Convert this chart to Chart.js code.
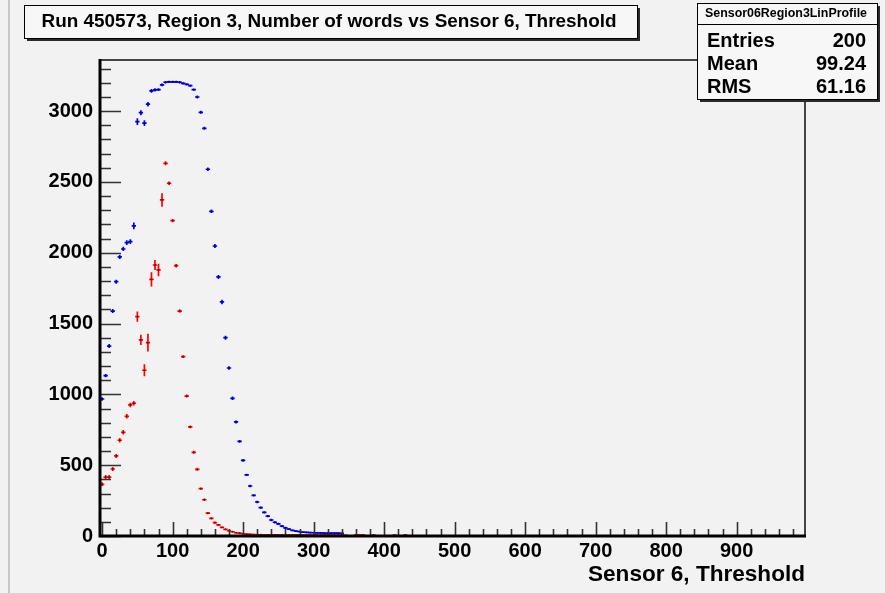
<!DOCTYPE html>
<html><head><meta charset="utf-8">
<script src="https://cdn.jsdelivr.net/npm/chart.js@4.4.0/dist/chart.umd.min.js"></script>
<style>html,body{margin:0;padding:0;background:#f2f2f2;} canvas{display:block;}</style>
</head><body>
<canvas id="c" width="885" height="593"></canvas>
<script>
// ---- text ----
const titleText = 'Run 450573, Region 3, Number of words vs Sensor 6, Threshold';
const xAxisTitle = 'Sensor 6, Threshold';
const statsName = 'Sensor06Region3LinProfile';
const statsLabels = ['Entries', 'Mean', 'RMS'];
const statsValues = ['200', '99.24', '61.16'];

// ---- ticks ----
const xTicks = [0, 100, 200, 300, 400, 500, 600, 700, 800, 900];
const yTicks = [0, 500, 1000, 1500, 2000, 2500, 3000];
const binHalfWidth = 2.5;

// ---- blue profile ----
const blueX = [0,5,10,15,20,25,30,35,40,45,50,55,60,65,70,75,80,85,90,95,100,105,110,115,120,125,130,135,140,145,150,155,160,165,170,175,180,185,190,195,200,205,210,215,220,225,230,235,240,245,250,255,260,265,270,275,280,285,290,295,300,305,310,315,320,325,330,335,340];
const blueY = [967,1132,1341,1588,1795,1970,2026,2071,2078,2189,2925,2988,2914,3048,3142,3149,3151,3184,3203,3205,3205,3205,3203,3195,3188,3179,3151,3099,2991,2878,2589,2292,2047,1829,1652,1400,1186,972,805,668,534,431,353,287,240,200,167,141,113,97,85,70,58,48,40,35,31,28,26,24,23,22,22,21,21,20,20,20,19];
const blueErr = [12,12,14,14,14,14,15,16,16,24,24,18,20,16,14,12,10,10,8,8,8,8,8,8,8,8,8,10,10,10,12,12,14,14,16,14,12,12,10,10,10,8,8,8,8,8,8,8,8,8,8,8,8,6,6,6,6,6,6,6,6,6,6,6,6,6,6,6,6];

// ---- red profile ----
const redX = [0,5,10,15,20,25,30,35,40,45,50,55,60,65,70,75,80,85,90,95,100,105,110,115,120,125,130,135,140,145,150,155,160,165,170,175,180,185,190,195,200,205,210,215,220,225,230,235,240,245,250,255,260,265,270,275,280,285,290,295,300,305,310,315,320,325,330,335,340,345,360,365,370,385,415,430];
const redY = [365,416,416,473,565,676,732,845,925,937,1548,1384,1170,1365,1812,1913,1878,2372,2631,2490,2226,1908,1588,1266,988,770,591,471,334,256,162,125,94,78,61,47,37,30,23,21,16,13,11,10,9,9,8,8,8,8,7,7,7,7,7,6,6,6,6,6,6,6,6,6,6,6,6,6,6,5,6,6,6,6,6,6];
const redErr = [14,14,14,14,14,16,16,16,16,16,36,36,42,62,50,36,44,48,14,12,12,12,12,10,10,10,10,10,8,8,8,8,8,6,6,6,6,6,6,6,6,6,6,6,6,6,6,6,6,6,6,6,6,6,6,6,6,6,6,6,6,6,6,6,6,6,6,6,6,6,6,6,6,6,6,6];

const FONT = '"Liberation Sans", Arial, Helvetica, sans-serif';

function fitText(ctx, text, x, y, width, font, align) {
  ctx.save();
  ctx.font = font;
  const w = ctx.measureText(text).width;
  const s = width / w;
  ctx.textBaseline = 'middle';
  ctx.textAlign = 'left';
  let left = x;
  if (align === 'center') left = x - width / 2;
  if (align === 'right') left = x - width;
  ctx.translate(left, y);
  ctx.scale(s, 1);
  ctx.fillText(text, 0, 0);
  ctx.restore();
}

const errorBars = {
  id: 'errorBars',
  beforeDatasetsDraw(chart) {
    const ctx = chart.ctx;
    const xs = chart.scales.x, ys = chart.scales.y;
    const sets = [
      {X: blueX, Y: blueY, E: blueErr, c: '#0000ff'},
      {X: redX, Y: redY, E: redErr, c: '#ff0000'}
    ];
    ctx.save();
    ctx.beginPath();
    ctx.rect(chart.chartArea.left, chart.chartArea.top, chart.chartArea.width, chart.chartArea.height);
    ctx.clip();
    sets.forEach(s => {
      ctx.strokeStyle = s.c;
      ctx.lineWidth = 1.7;
      s.X.forEach((xv, i) => {
        const px = xs.getPixelForValue(xv);
        const py = ys.getPixelForValue(s.Y[i]);
        const x0 = xs.getPixelForValue(xv - binHalfWidth - 0.6);
        const x1 = xs.getPixelForValue(xv + binHalfWidth + 0.6);
        const y0 = ys.getPixelForValue(s.Y[i] - s.E[i]);
        const y1 = ys.getPixelForValue(s.Y[i] + s.E[i]);
        ctx.beginPath();
        ctx.moveTo(x0, py); ctx.lineTo(x1, py);
        ctx.moveTo(px, y0); ctx.lineTo(px, y1);
        ctx.stroke();
      });
    });
    ctx.restore();
  }
};

const rootFrame = {
  id: 'rootFrame',
  beforeDraw(chart) {
    const ctx = chart.ctx;
    ctx.save();
    ctx.fillStyle = '#f2f2f2';
    ctx.fillRect(0, 0, chart.width, chart.height);
    ctx.strokeStyle = '#c8c8c8';
    ctx.lineWidth = 2;
    ctx.beginPath(); ctx.moveTo(9, 0); ctx.lineTo(9, chart.height); ctx.stroke();
    ctx.restore();
  },
  afterDatasetsDraw(chart) {
    const ctx = chart.ctx;
    const a = chart.chartArea;
    const xs = chart.scales.x, ys = chart.scales.y;
    ctx.save();
    ctx.strokeStyle = '#444';
    ctx.lineWidth = 2;
    ctx.beginPath();
    ctx.moveTo(a.left, a.top); ctx.lineTo(a.right, a.top); ctx.lineTo(a.right, a.bottom);
    ctx.stroke();
    ctx.strokeStyle = '#333';
    ctx.lineWidth = 1.6;
    ctx.beginPath();
    for (let v = 0; v <= 3300; v += 100) {
      const py = Math.round(ys.getPixelForValue(v)) + 0.5;
      const len = (v % 500 === 0) ? 21 : 11;
      ctx.moveTo(a.left, py); ctx.lineTo(a.left + len, py);
    }
    for (let v = 0; v <= 980; v += 20) {
      const px = Math.round(xs.getPixelForValue(v)) + 0.5;
      const len = (v % 100 === 0) ? 14 : 7;
      ctx.moveTo(px, a.bottom); ctx.lineTo(px, a.bottom - len);
    }
    ctx.stroke();
    ctx.strokeStyle = '#000';
    ctx.lineWidth = 3;
    ctx.beginPath();
    ctx.moveTo(a.left, a.top - 1); ctx.lineTo(a.left, a.bottom); ctx.lineTo(a.right + 1, a.bottom);
    ctx.stroke();
    ctx.restore();
  },
  afterDraw(chart) {
    const ctx = chart.ctx;
    const a = chart.chartArea;
    ctx.save();
    ctx.fillStyle = '#000';
    fitText(ctx, xAxisTitle, a.right, 575, 217, 'bold 22px ' + FONT, 'right');
    ctx.fillStyle = '#2a2a2a';
    ctx.fillRect(27, 8, 613, 33);
    ctx.fillStyle = '#f7f7f7';
    ctx.fillRect(24, 5, 613, 33);
    ctx.strokeStyle = '#000'; ctx.lineWidth = 1;
    ctx.strokeRect(24.5, 5.5, 613, 33);
    ctx.fillStyle = '#000';
    fitText(ctx, titleText, 329, 22, 575, 'bold 18px ' + FONT, 'center');
    ctx.fillStyle = '#2a2a2a';
    ctx.fillRect(700, 6, 180, 96);
    ctx.fillStyle = '#f7f7f7';
    ctx.fillRect(697, 3, 180, 96);
    ctx.strokeRect(697.5, 3.5, 180, 96);
    ctx.beginPath(); ctx.moveTo(697, 24.5); ctx.lineTo(877, 24.5); ctx.stroke();
    ctx.fillStyle = '#000';
    fitText(ctx, statsName, 786, 14, 162, 'bold 12px ' + FONT, 'center');
    ctx.font = 'bold 20px ' + FONT;
    ctx.textBaseline = 'middle';
    const rows = [41, 64, 87];
    statsLabels.forEach((l, i) => {
      ctx.textAlign = 'left';
      ctx.fillText(l, 707, rows[i]);
      ctx.textAlign = 'right';
      ctx.fillText(statsValues[i], 866, rows[i]);
    });
    ctx.restore();
  }
};

new Chart(document.getElementById('c'), {
  type: 'scatter',
  data: {
    datasets: [
      {label: 'blue', data: blueX.map((x, i) => ({x: x, y: blueY[i]})),
       pointRadius: 0.9, pointBackgroundColor: '#0000a0', pointBorderWidth: 0, showLine: false},
      {label: 'red', data: redX.map((x, i) => ({x: x, y: redY[i]})),
       pointRadius: 0.9, pointBackgroundColor: '#900000', pointBorderWidth: 0, showLine: false}
    ]
  },
  options: {
    responsive: false,
    animation: false,
    devicePixelRatio: 1,
    layout: {padding: {left: 0, top: 60, right: 80, bottom: 0}},
    plugins: {legend: {display: false}, tooltip: {enabled: false}, title: {display: false}},
    scales: {
      x: {
        type: 'linear', min: -3, max: 997,
        afterFit(s) { s.height = 57; },
        afterBuildTicks(s) { s.ticks = xTicks.map(v => ({value: v})); },
        grid: {display: false, drawTicks: false},
        border: {display: false},
        ticks: {color: '#000', padding: 3, maxRotation: 0, autoSkip: false,
                callback: v => String(v),
                font: {family: FONT, size: 20, weight: 'bold'}}
      },
      y: {
        type: 'linear', min: 0, max: 3360,
        afterFit(s) { s.width = 100; },
        afterBuildTicks(s) { s.ticks = yTicks.map(v => ({value: v})); },
        grid: {display: false, drawTicks: false},
        border: {display: false},
        ticks: {color: '#000', padding: 7, autoSkip: false,
                callback: v => String(v),
                font: {family: FONT, size: 20, weight: 'bold'}}
      }
    }
  },
  plugins: [rootFrame, errorBars]
});
</script>
</body></html>
